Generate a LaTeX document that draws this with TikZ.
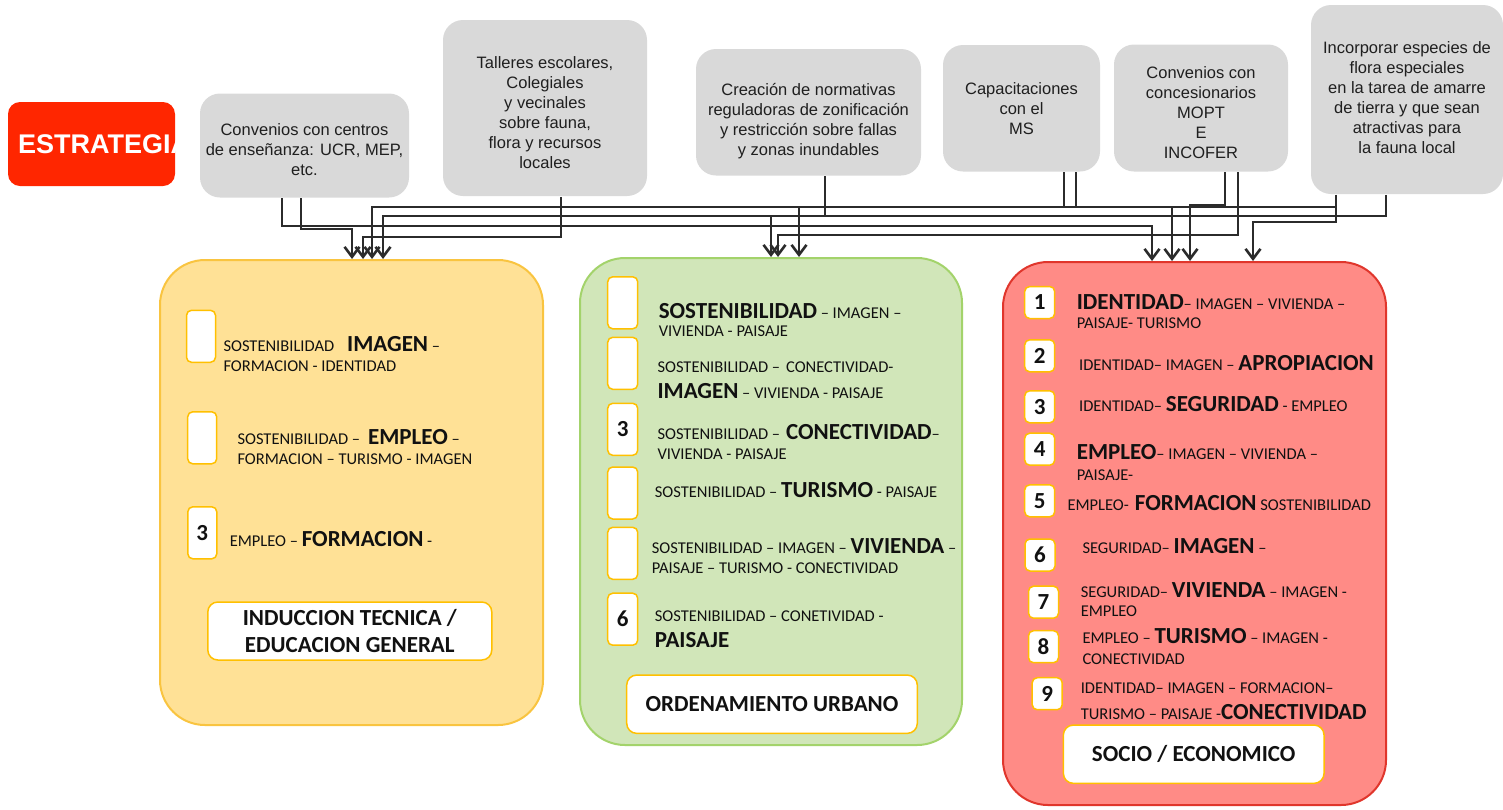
\documentclass[tikz,border=0pt]{standalone}
\usepackage{fontspec}
\setmainfont{Carlito}
\newfontfamily\arialfont{Liberation Sans}
\usetikzlibrary{arrows.meta, positioning}
\definecolor{cgreybox}{HTML}{D9D9D9}
\definecolor{cest}{HTML}{FF2600}
\definecolor{cyelfill}{HTML}{FFE196}
\definecolor{cyelline}{HTML}{F9C440}
\definecolor{cgrnfill}{HTML}{D1E6B9}
\definecolor{cgrnline}{HTML}{A3D36B}
\definecolor{credfill}{HTML}{FF8B86}
\definecolor{credline}{HTML}{E0362C}
\definecolor{cbadge}{HTML}{FFC000}
\definecolor{clink}{HTML}{2B2B2B}
\definecolor{ctext}{HTML}{1F1F1F}
\definecolor{cink}{HTML}{111111}
\newcommand{\topf}{\arialfont\fontsize{16.5}{20}\selectfont}
\newcommand{\estf}{\arialfont\fontsize{27}{30}\selectfont\bfseries}
\newcommand{\rowf}{\fontsize{16.5}{20}\selectfont}
\newcommand{\numf}{\fontsize{23}{26}\selectfont\bfseries}
\newcommand{\labf}{\fontsize{23}{27}\selectfont\bfseries}
\newcommand{\kwd}[1]{{\fontsize{23}{20}\selectfont\bfseries #1}}
\tikzset{
  every picture/.style={line width=1.6pt},
  estbox/.style={fill=cest, rounded corners=12pt, inner sep=0pt},
  greybox/.style={fill=cgreybox, rounded corners=20pt, inner sep=0pt},
  toptext/.style={align=center, inner sep=0pt, font=\topf, text=ctext},
  panel/.style 2 args={draw=#1, fill=#2, rounded corners=45pt, line width=2pt, inner sep=0pt},
  badge/.style={draw=cbadge, fill=white, rounded corners=5pt, line width=1.5pt, minimum width=29pt, minimum height=52pt, inner sep=0pt, font=\numf, text=cink},
  sbadge/.style={badge, minimum width=30pt, minimum height=32pt},
  row/.style={anchor=base west, align=left, inner sep=0pt, font=\rowf, text=cink},
  lab/.style={draw=cbadge, fill=white, rounded corners=10pt, line width=1.5pt, font=\labf, align=center, inner sep=0pt, text=cink},
  link/.style={draw=clink, line width=1.6pt, -{Straight Barb[length=10pt, width=15pt, line width=2.6pt]}},
}
\begin{document}
\begin{tikzpicture}[x=1pt, y=-1pt]
  \useasboundingbox (0,0) rectangle (1503,809);
  % strategy label, text cut at the right edge
  \node[estbox, minimum width=167pt, minimum height=84pt] (est) at (91.5,144) {};
  \begin{scope}
    \clip[rounded corners=12pt] (est.south west) rectangle (est.north east);
    \node[anchor=west, inner sep=0pt, text=white, font=\estf] (esttext) at ([xshift=10pt]est.west) {ESTRATEGIA};
  \end{scope}

  % actions
  \node[greybox, minimum width=209pt, minimum height=104pt] (conv) at (304.5,145.5) {};
  \node[greybox, minimum width=204pt, minimum height=176pt] (tall) at (545,108) {};
  \node[greybox, minimum width=225pt, minimum height=126.5pt] (norm) at (808.5,112.25) {};
  \node[greybox, minimum width=157pt, minimum height=126.5pt] (capa) at (1021.5,108.25) {};
  \node[greybox, minimum width=174pt, minimum height=127pt] (conc) at (1201,108) {};
  \node[greybox, minimum width=192pt, minimum height=189pt] (flora) at (1407,99.5) {};
  \node[toptext] (convtext) at ([yshift=-4pt]conv.center) {Convenios con centros\\de enseñanza: UCR, MEP,\\etc.};
  \node[toptext] (talltext) at ([yshift=-5pt]tall.center) {Talleres escolares,\\Colegiales\\y vecinales\\sobre fauna,\\flora y recursos\\locales};
  \node[toptext] (normtext) at ([yshift=-9pt]norm.center) {Creación de normativas\\reguladoras de zonificación\\y restricción sobre fallas\\y zonas inundables};
  \node[toptext] (capatext) at (capa.center) {Capacitaciones\\con el\\MS};
  \node[toptext] (conctext) at ([yshift=-5pt]conc.center) {Convenios con\\concesionarios\\MOPT\\E\\INCOFER};
  \node[toptext] (floratext) at ([yshift=2pt]flora.center) {Incorporar especies de\\flora especiales\\en la tarea de amarre\\de tierra y que sean\\atractivas para\\la fauna local};

  % panels
  \node[panel={cyelline}{cyelfill}, minimum width=383pt, minimum height=465pt] (induc) at (351.5,492.5) {};
  \node[panel={cgrnline}{cgrnfill}, minimum width=382pt, minimum height=487pt] (orden) at (771,501.5) {};
  \node[panel={credline}{credfill}, minimum width=383pt, minimum height=543pt] (socio) at (1194.5,533.5) {};

  % induccion tecnica
  \node[badge] (ib1) at (201,336.3) {};
  \node[badge] (ib2) at (202.2,437.8) {};
  \node[badge] (ib3) at (202.3,532.8) {3};
  \node[row] (ir1) at (222.7,371) {SOSTENIBILIDAD\hspace{13pt}\kwd{IMAGEN} –\\FORMACION - IDENTIDAD};
  \node[row] (ir2) at (236.7,464) {SOSTENIBILIDAD –\hspace{8pt}\kwd{EMPLEO} –\\FORMACION – TURISMO - IMAGEN};
  \node[row] (ir3) at (229,546.7) {EMPLEO – \kwd{FORMACION} -};
  \node[lab, minimum width=284pt, minimum height=58pt] (ilab) at (349.8,631) {INDUCCION TECNICA /\\EDUCACION GENERAL};

  % ordenamiento urbano
  \node[badge, minimum width=30pt] (ob1) at (622.7,302.8) {};
  \node[badge, minimum width=30pt] (ob2) at (622.7,363.3) {};
  \node[badge, minimum width=30pt] (ob3) at (622.7,429.3) {3};
  \node[badge, minimum width=30pt] (ob4) at (622.7,493) {};
  \node[badge, minimum width=30pt] (ob5) at (622.7,553.3) {};
  \node[badge, minimum width=30pt] (ob6) at (622.7,619.2) {6};
  \node[row] (or1) at (658,336.7) {\kwd{SOSTENIBILIDAD} – IMAGEN –\\[-2pt]VIVIENDA - PAISAJE};
  \node[row] (or2) at (656.7,398.3) {SOSTENIBILIDAD –\hspace{6pt}CONECTIVIDAD-\\[6pt]\kwd{IMAGEN} – VIVIENDA - PAISAJE};
  \node[row] (or3) at (656.7,459.3) {SOSTENIBILIDAD –\hspace{6pt}\kwd{CONECTIVIDAD}–\\VIVIENDA - PAISAJE};
  \node[row] (or4) at (654,497.3) {SOSTENIBILIDAD – \kwd{TURISMO} - PAISAJE};
  \node[row] (or5) at (651,573.3) {SOSTENIBILIDAD – IMAGEN – \kwd{VIVIENDA} –\\PAISAJE – TURISMO - CONECTIVIDAD};
  \node[row] (or6) at (654,647.3) {SOSTENIBILIDAD – CONETIVIDAD -\\[6pt]\kwd{PAISAJE}};
  \node[lab, minimum width=290.6pt, minimum height=58.3pt] (olab) at (772,704.2) {ORDENAMIENTO URBANO};

  % socio economico
  \node[sbadge] (sb1) at (1039.7,302.5) {1};
  \node[sbadge] (sb2) at (1039.7,355.8) {2};
  \node[sbadge] (sb3) at (1039.7,406.8) {3};
  \node[sbadge] (sb4) at (1039.7,449.2) {4};
  \node[sbadge] (sb5) at (1039.7,500.8) {5};
  \node[sbadge] (sb6) at (1040,555) {6};
  \node[sbadge] (sb7) at (1043.5,602.2) {7};
  \node[sbadge] (sb8) at (1043.5,646.7) {8};
  \node[sbadge] (sb9) at (1047.2,693.7) {9};
  \node[row] (sr1) at (1076,328.3) {\kwd{IDENTIDAD}– IMAGEN – VIVIENDA –\\[-1pt]PAISAJE- TURISMO};
  \node[row] (sr2) at (1078.3,370) {IDENTIDAD– IMAGEN – \kwd{APROPIACION}};
  \node[row] (sr3) at (1078.3,411) {IDENTIDAD– \kwd{SEGURIDAD} - EMPLEO};
  \node[row] (sr4) at (1076,480) {\kwd{EMPLEO}– IMAGEN – VIVIENDA –\\[1pt]PAISAJE-};
  \node[row] (sr5) at (1066.7,510) {EMPLEO-\hspace{6pt}\kwd{FORMACION} SOSTENIBILIDAD};
  \node[row] (sr6) at (1081.7,553.3) {SEGURIDAD– \kwd{IMAGEN} –};
  \node[row] (sr7) at (1080,616.7) {SEGURIDAD– \kwd{VIVIENDA} – IMAGEN -\\[-1pt]EMPLEO};
  \node[row] (sr8) at (1081.7,664.3) {EMPLEO – \kwd{TURISMO} – IMAGEN -\\[1pt]CONECTIVIDAD};
  \node[row] (sr9) at (1080,719.3) {IDENTIDAD– IMAGEN – FORMACION–\\[6pt]TURISMO – PAISAJE -\kwd{CONECTIVIDAD}};
  \node[lab, minimum width=260.7pt, minimum height=58.3pt] (slab) at (1193.7,754.2) {SOCIO / ECONOMICO};

  % connectors
  \draw[link] ([xshift=-22.5pt]conv.south) |- (1152,226) -- ([xshift=-42.5pt]socio.north);
  \draw[link] ([xshift=-3.5pt]conv.south) |- (352,229) -- ([xshift=0.5pt]induc.north);
  \draw[link] ([xshift=16pt]tall.south) |- (363,237) -- ([xshift=11.5pt]induc.north);
  \draw[link] ([xshift=42.5pt]capa.south) |- (372,207) -- ([xshift=20.5pt]induc.north);
  \draw[link] ([xshift=16.5pt]norm.south) |- (771,216) -- (orden.north);
  \draw[link] ([xshift=-21pt]flora.south) |- (383,216) -- ([xshift=31.5pt]induc.north);
  \draw[link] ([xshift=-71pt]flora.south) |- (799,207) -- ([xshift=28pt]orden.north);
  \draw[link] ([xshift=37pt]conc.south) |- (778,235) -- ([xshift=7pt]orden.north);
  \draw[link] ([xshift=54.5pt]capa.south) |- (1172,207) -- ([xshift=-22.5pt]socio.north);
  \draw[link] ([xshift=24pt]conc.south) |- (1190,205) -- ([xshift=-4.5pt]socio.north);
  \draw[link] ([xshift=-71pt]flora.south) |- (1253,222) -- ([xshift=58.5pt]socio.north);
\end{tikzpicture}
\end{document}
